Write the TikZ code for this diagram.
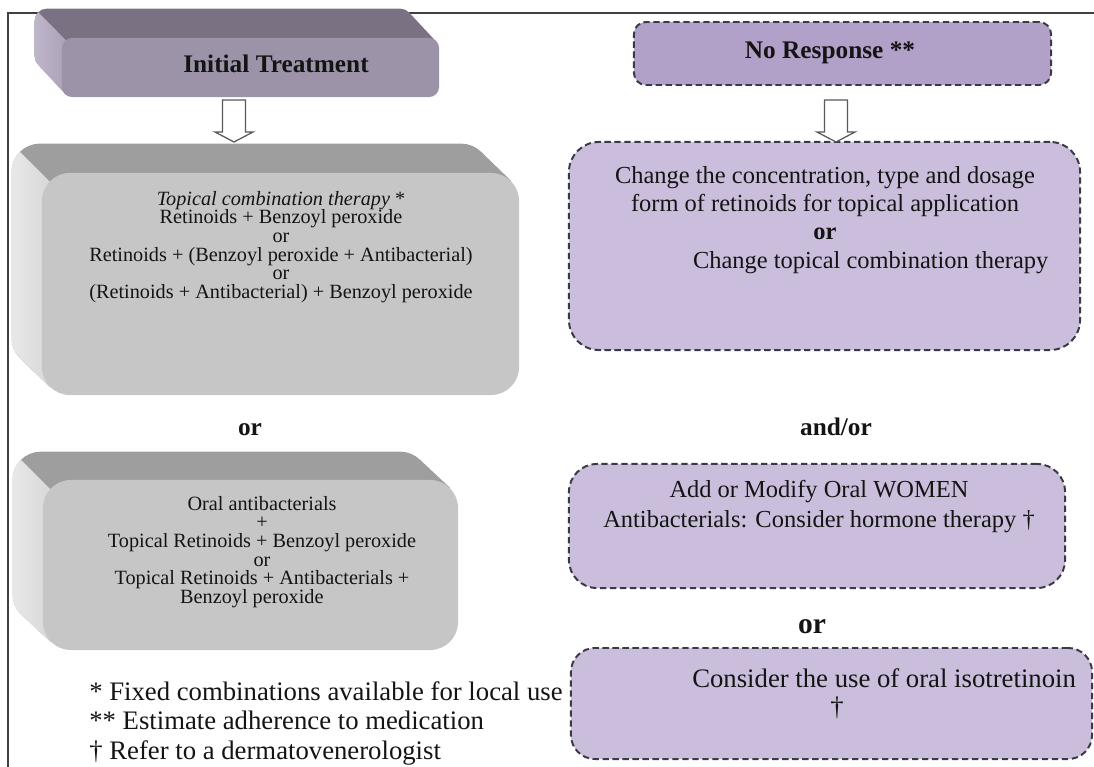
\documentclass[tikz,border=0pt]{standalone}
\usepackage{fontspec}
\setmainfont{Liberation Serif}
\usetikzlibrary{positioning, calc, backgrounds}

\definecolor{slabfront}{HTML}{9D93A8}
\definecolor{slabtop}{HTML}{7A7282}
\definecolor{slabsideA}{HTML}{BFB6CA}
\definecolor{slabsideB}{HTML}{A89DB4}
\definecolor{grayfront}{HTML}{C6C6C6}
\definecolor{graytop}{HTML}{9E9E9E}
\definecolor{graysideA}{HTML}{E8E8E8}
\definecolor{graysideB}{HTML}{CFCFCF}
\definecolor{lilacdark}{HTML}{B1A0C8}
\definecolor{lilac}{HTML}{CABEDC}
\definecolor{dashline}{HTML}{3A3A46}
\definecolor{ink}{HTML}{141414}

\tikzset{
  slabface/.style={rectangle, inner sep=0pt, draw=none},
  dashbox/.style={rectangle, inner sep=0pt, fill=lilac, draw=dashline,
    line width=1.4pt, dash pattern=on 4.5pt off 2.6pt},
  txt/.style={inner sep=0pt, text=ink, align=center},
  hollow/.style={draw=black!65, fill=white, line width=0.9pt, to path={
    let \p1=(\tikztostart), \p2=(\tikztotarget) in
    (\x1-8.2pt,\y1) -- (\x1+8.2pt,\y1) -- (\x1+8.2pt,\y2+7.1pt)
    -- (\x1+13.5pt,\y2+7.1pt) -- (\x2,\y2) -- (\x1-13.5pt,\y2+7.1pt)
    -- (\x1-8.2pt,\y2+7.1pt) -- cycle}}
}

\begin{document}
\begin{tikzpicture}[x=0.025cm, y=-0.025cm]
\useasboundingbox (0,0) rectangle (1094,767);

% front faces of the raised boxes
\node[slabface, fill=slabfront, rounded corners=0.25cm,
  minimum width=9.425cm, minimum height=1.475cm] (init) at (250.5,67.5) {};
\node[slabface, fill=grayfront, rounded corners=0.7cm,
  minimum width=11.925cm, minimum height=5.55cm] (topical) at (280.5,284) {};
\node[slabface, fill=grayfront, rounded corners=0.7cm,
  minimum width=10.375cm, minimum height=4.25cm] (oral) at (250.5,565) {};

% frame and the sides of the raised boxes
\begin{scope}[on background layer]
  \draw[black!75, line width=0.8pt] (8,767) -- (8,13) -- (1094,13);
  \foreach \nm/\dx/\dy/\rad/\tc/\sa/\sb in {init/27/29/12/slabtop/slabsideA/slabsideB,
      topical/30/29/28/graytop/graysideA/graysideB,
      oral/30/28/28/graytop/graysideA/graysideB}{
    \path (\nm.north west) coordinate (f1) (\nm.south east) coordinate (f2)
      ($(f1)+(-\dx,-\dy)$) coordinate (b1) ($(f2)+(-\dx,-\dy)$) coordinate (b2);
    \fill[\tc, rounded corners=\rad*0.025cm] (b1) rectangle (b2);
    \fill[\tc] ($(b1 -| b2)+(-0.293*\rad,0.293*\rad)$) -- ($(f1 -| f2)+(-0.293*\rad,0.293*\rad)$)
      -- ($(f1 |- f2)+(0.293*\rad,-0.293*\rad)$) -- ($(b1 |- b2)+(0.293*\rad,-0.293*\rad)$) -- cycle;
    \begin{scope}
      \clip ($(b1)+(-50,-50)$) -- ($(f1)+(600,600)$) -- ($(b1)+(-50,1000)$) -- cycle;
      \begin{scope}
        \clip[rounded corners=\rad*0.025cm] (b1) rectangle (b2);
        \shade[left color=\sa, right color=\sb] (b1) rectangle ($(f1 |- f2)+(\rad,0)$);
      \end{scope}
      \begin{scope}
        \clip ($(b1 -| b2)+(-0.293*\rad,0.293*\rad)$) -- ($(f1 -| f2)+(-0.293*\rad,0.293*\rad)$)
          -- ($(f1 |- f2)+(0.293*\rad,-0.293*\rad)$) -- ($(b1 |- b2)+(0.293*\rad,-0.293*\rad)$) -- cycle;
        \shade[left color=\sa, right color=\sb] (b1) rectangle ($(f1 |- f2)+(\rad,0)$);
      \end{scope}
    \end{scope}
  }
\end{scope}

% dashed boxes
\node[dashbox, fill=lilacdark, rounded corners=0.3cm,
  minimum width=10.425cm, minimum height=1.575cm] (noresp) at (842.5,53.5) {};
\node[dashbox, rounded corners=0.75cm,
  minimum width=12.775cm, minimum height=5.2cm] (change) at (824.5,246) {};
\node[dashbox, rounded corners=0.7cm,
  minimum width=12.4cm, minimum height=3.1cm] (addoral) at (817,526) {};
\node[dashbox, rounded corners=0.6cm,
  minimum width=13.025cm, minimum height=2.775cm] (iso) at (831.5,703.5) {};

% texts
\node[txt, font={\bfseries\fontsize{18}{20}\selectfont}] (inittxt) at (276,64) {Initial Treatment};
\node[txt, font={\bfseries\fontsize{18}{20}\selectfont}] (noresptxt) at (830,53) {No Response **};
\node[txt, font={\fontsize{14.4}{13.3}\selectfont}] (topicaltxt) at (281,247)
  {\textit{Topical combination therapy} *\\ Retinoids + Benzoyl peroxide\\ or\\
   Retinoids + (Benzoyl peroxide + Antibacterial)\\ or\\
   (Retinoids + Antibacterial) + Benzoyl peroxide};
\node[txt, font={\fontsize{14.4}{13.3}\selectfont}] (oraltxt) at (262,552)
  {Oral antibacterials\\ +\\ Topical Retinoids + Benzoyl peroxide\\ or\\
   Topical Retinoids + Antibacterials +\\ Benzoyl peroxide\hspace*{1em}};
\node[txt, font={\fontsize{17.4}{20}\selectfont}] (changetxt) at (825,220)
  {Change the concentration, type and dosage\\ form of retinoids for topical application\\
   \textbf{or}\\ \hspace*{65pt}Change topical combination therapy};
\node[txt, font={\fontsize{17.4}{21.3}\selectfont}] (addoraltxt) at (819,507)
  {Add or Modify Oral WOMEN\\ Antibacterials: Consider hormone therapy †};
\node[txt, font={\fontsize{19}{20}\selectfont}] (isotxt) at (837,694)
  {\hspace*{67pt}Consider the use of oral isotretinoin\\ †};
\node[txt, font={\bfseries\fontsize{18}{20}\selectfont}] (orleft) at (250,430) {or};
\node[txt, font={\bfseries\fontsize{18}{20}\selectfont}] (andor) at (836,427) {and/or};
\node[txt, font={\bfseries\fontsize{21}{22}\selectfont}] (orright) at (812,627) {or};
\node[txt, align=left, anchor=north west, font={\fontsize{19}{21}\selectfont}] (notes) at (89,681)
  {* Fixed combinations available for local use\\ ** Estimate adherence to medication\\
   † Refer to a dermatovenerologist};

% hollow arrows
\coordinate (a1s) at (234,100);
\coordinate (a1e) at (234,142);
\coordinate (a2s) at (836,100);
\coordinate (a2e) at (836,142);
\draw[hollow] (a1s) to (a1e);
\draw[hollow] (a2s) to (a2e);
\end{tikzpicture}
\end{document}
